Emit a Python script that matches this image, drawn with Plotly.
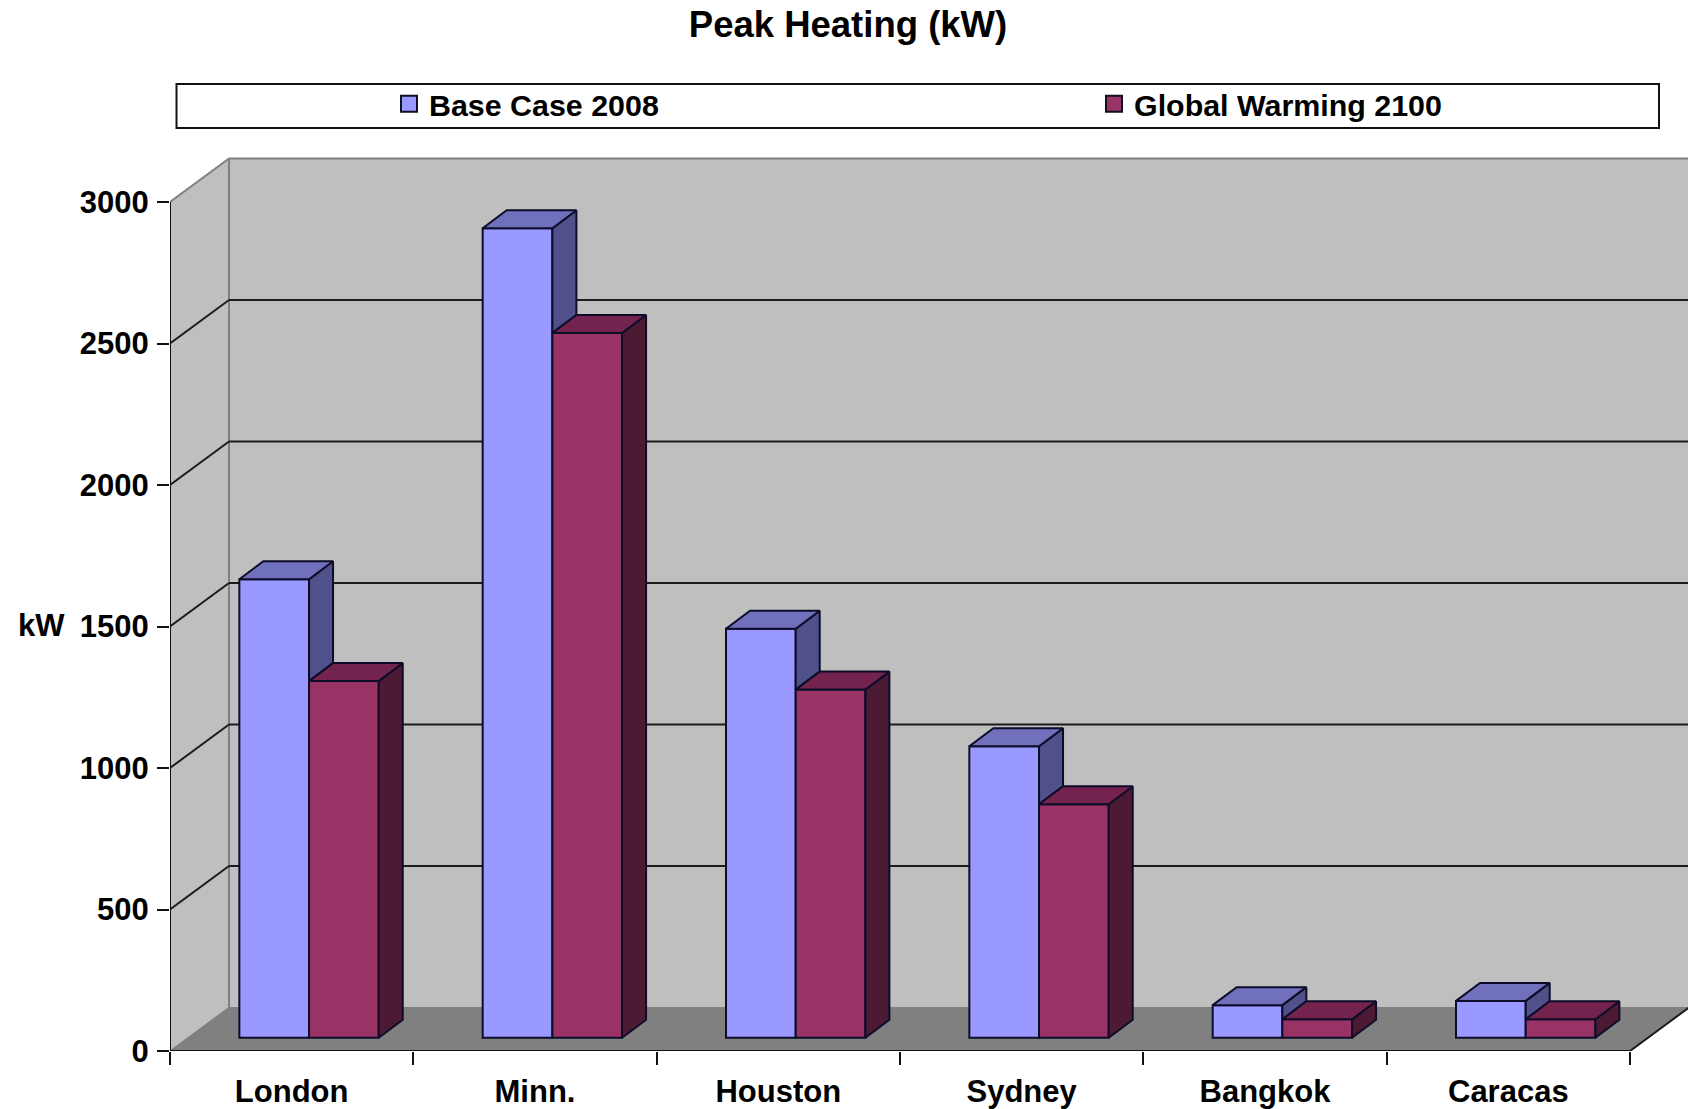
import plotly.graph_objects as go

categories = ["London", "Minn.", "Houston", "Sydney", "Bangkok", "Caracas"]
base_case = [1620, 2860, 1445, 1030, 115, 130]
warming = [1260, 2490, 1230, 825, 65, 65]
series_names = ["Base Case 2008", "Global Warming 2100"]
y_ticks = [0, 500, 1000, 1500, 2000, 2500, 3000]

FONT = "Liberation Sans"
PX_X = 243.33          # pixels per category
PX_Y = 0.283           # pixels per kW
L, B, T = 170, 58, 150
W, H = 1688, 1109
WALL_DX, WALL_DY = 59 / PX_X, 43.5 / PX_Y    # depth of the chart box
BAR_DX, BAR_DY = 24 / PX_X, 18 / PX_Y        # depth of a bar
FLOOR = 13.3 / PX_Y                          # bar front plane above axis
BAR_W = 0.2864
BAR_X0 = 0.285
n = len(categories)
xmax = (W - L) / PX_X
ymax = (H - B - T) / PX_Y
top = y_ticks[-1]
GRID = "#1c1c1c"
EDGE = "#0d0d2a"
WALL = "#BFBFBF"


def poly_trace(polys, color):
    xs, ys = [], []
    for p in polys:
        xs += [a for a, _ in p] + [p[0][0], None]
        ys += [b for _, b in p] + [p[0][1], None]
    return go.Scatter(x=xs, y=ys, mode="lines", fill="toself", fillcolor=color,
                      line=dict(color=EDGE, width=2), hoverinfo="skip", showlegend=False)


def poly_shape(pts, fill, line=None, width=1.2):
    path = "M " + " L ".join(f"{a},{b}" for a, b in pts) + " Z"
    return dict(type="path", path=path, xref="x", yref="y", layer="below", fillcolor=fill,
                line=dict(color=line or fill, width=width))


def line_shape(x0, y0, x1, y1, color=GRID, width=2):
    return dict(type="line", x0=x0, y0=y0, x1=x1, y1=y1, xref="x", yref="y", layer="below",
                line=dict(color=color, width=width))


shapes = [
    poly_shape([(0, 0), (WALL_DX, WALL_DY), (WALL_DX, top + WALL_DY), (0, top)], WALL),
    poly_shape([(WALL_DX, WALL_DY), (xmax + 1, WALL_DY), (xmax + 1, top + WALL_DY), (WALL_DX, top + WALL_DY)], WALL),
    poly_shape([(0, 0), (n, 0), (n + WALL_DX, WALL_DY), (WALL_DX, WALL_DY)], "#808080"),
    line_shape(WALL_DX, WALL_DY, WALL_DX, top + WALL_DY, "#808080"),
    line_shape(0, top, WALL_DX, top + WALL_DY, "#808080"),
    line_shape(WALL_DX, top + WALL_DY, xmax + 1, top + WALL_DY, "#808080"),
    line_shape(n, 0, n + WALL_DX, WALL_DY, GRID),
]
for v in y_ticks[1:-1]:
    shapes.append(line_shape(0, v, WALL_DX, v + WALL_DY))
    shapes.append(line_shape(WALL_DX, v + WALL_DY, xmax + 1, v + WALL_DY))
# legend box
shapes.append(dict(type="rect", xref="paper", yref="paper",
                   x0=(176.5 - L) / (W - L), x1=(1659 - L) / (W - L),
                   y0=(H - B - 128) / (H - B - T), y1=(H - B - 84) / (H - B - T),
                   line=dict(color="#111111", width=2), fillcolor="white", layer="below"))

fig = go.Figure()


def x_left(i, s):
    return i + BAR_X0 + s * BAR_W


for s, (vals, front) in enumerate([(base_case, "#9999FF"), (warming, "#993366")]):
    fig.add_trace(go.Bar(x=[x_left(i, s) + BAR_W / 2 for i in range(n)],
                         y=vals, base=[FLOOR] * n, width=BAR_W,
                         marker=dict(color=front, line=dict(color=EDGE, width=2)),
                         name=series_names[s], showlegend=False, hoverinfo="y"))

for s, (vals, side, cap) in enumerate([
    (base_case, "#50508A", "#7070BC"),
    (warming, "#4D1A33", "#74224E"),
]):
    side_polys, cap_polys = [], []
    for i, v in enumerate(vals):
        x0, x1 = x_left(i, s), x_left(i, s) + BAR_W
        vt = v + FLOOR
        vb = warming[i] + FLOOR if s == 0 else FLOOR
        side_polys.append([(x1, vb), (x1 + BAR_DX, vb + BAR_DY), (x1 + BAR_DX, vt + BAR_DY), (x1, vt)])
        cap_polys.append([(x0, vt), (x0 + BAR_DX, vt + BAR_DY), (x1 + BAR_DX, vt + BAR_DY), (x1, vt)])
    fig.add_trace(poly_trace(side_polys, side))
    fig.add_trace(poly_trace(cap_polys, cap))

# axis lines limited to the front edges of the box
fig.add_trace(go.Scatter(x=[0, 0, n], y=[top, 0, 0], mode="lines", cliponaxis=False,
                         line=dict(color="#111111", width=2), hoverinfo="skip", showlegend=False))

# legend entries
for name, color in zip(series_names, ["#9999FF", "#993366"]):
    fig.add_trace(go.Scatter(x=[None], y=[None], mode="markers", name=name,
                             marker=dict(symbol="square", size=18, color=color,
                                         line=dict(color="#111122", width=2))))

tick_font = dict(family=FONT, size=31, color="#000000", weight=700)
fig.update_layout(
    width=W, height=H, margin=dict(l=L, r=0, t=T, b=B, autoexpand=False),
    paper_bgcolor="white", plot_bgcolor="white", barmode="overlay",
    title=dict(text="Peak Heating (kW)", x=848 / W, xref="container", xanchor="center",
               y=1 - 24.5 / H, yref="container", yanchor="middle",
               font=dict(family=FONT, size=36.5, color="#000000", weight=700)),
    legend=dict(orientation="h", x=(389 - L) / (W - L), xanchor="left",
                y=(H - B - 104) / (H - B - T), yanchor="middle",
                bgcolor="rgba(0,0,0,0)", borderwidth=0, entrywidth=660, entrywidthmode="pixels",
                font=dict(family=FONT, size=30.4, color="#000000", weight=700), traceorder="normal"),
    shapes=shapes,
    annotations=[dict(text="kW", xref="paper", yref="paper", showarrow=False,
                      x=(41 - L) / (W - L), y=(H - B - 625) / (H - B - T),
                      xanchor="center", yanchor="middle", font=tick_font)],
    xaxis=dict(range=[0, xmax], showgrid=False, zeroline=False, showline=False,
               tickmode="array", tickvals=[i + 0.5 for i in range(n)], ticktext=categories,
               ticks="outside", ticklen=0, tickfont=tick_font, ticklabelstandoff=13,
               minor=dict(tickmode="array", tickvals=list(range(n + 1)), ticks="outside",
                          ticklen=13, tickwidth=2, tickcolor="#111111", showgrid=False)),
    yaxis=dict(range=[0, ymax], showgrid=False, zeroline=False, showline=False,
               tickmode="array", tickvals=y_ticks, ticks="outside", ticklen=12, tickwidth=2,
               tickcolor="#111111", tickfont=tick_font, ticklabelstandoff=2),
)

fig.write_html("out.html", config=dict(displayModeBar=False),
               post_script="document.body.style.margin='0';document.documentElement.style.overflow='hidden';")
